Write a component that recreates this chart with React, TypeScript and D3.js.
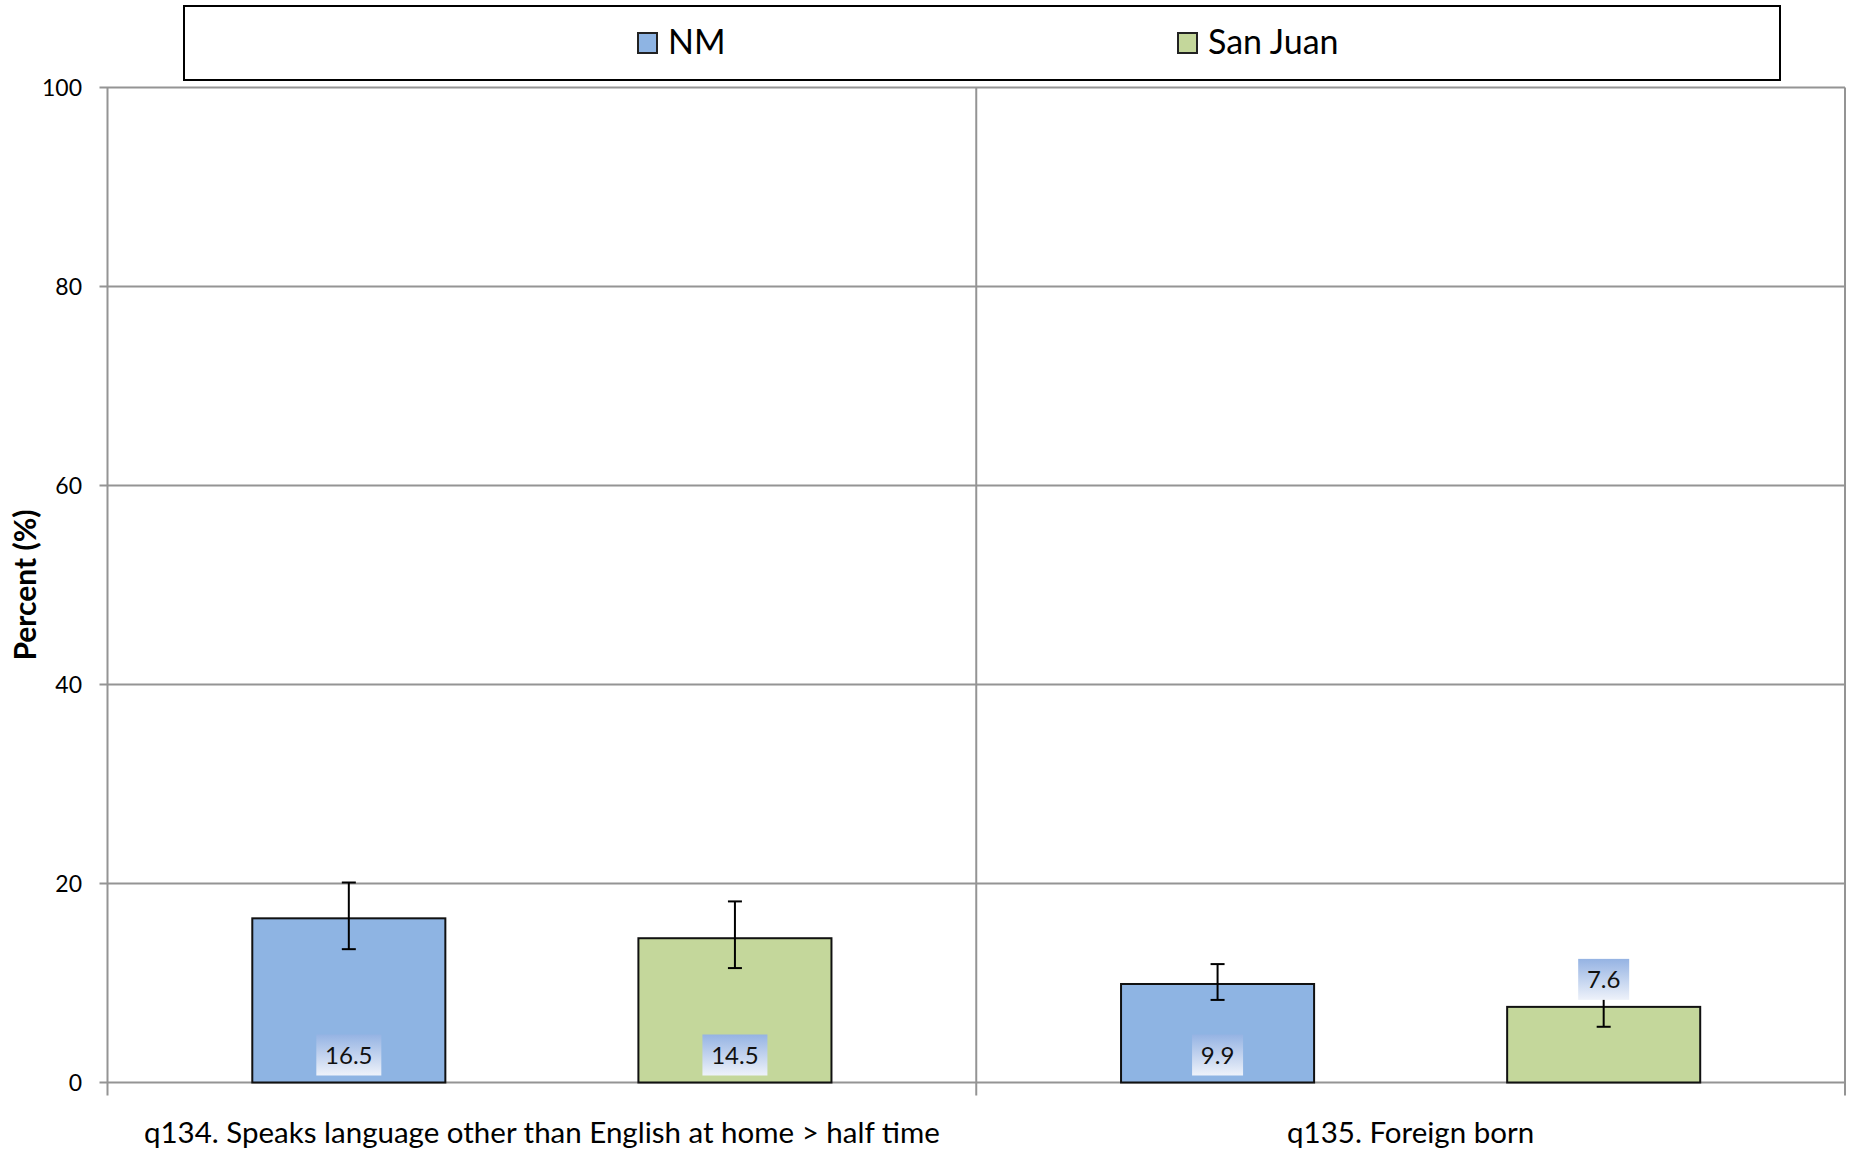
import React from 'react';
import * as d3 from 'd3';

const categories = ['q134. Speaks language other than English at home > half time', 'q135. Foreign born'];
const seriesNames = ['NM', 'San Juan'];
const nmValues = [16.5, 9.9];
const sjValues = [14.5, 7.6];
const nmLower = [13.4, 8.3];
const nmUpper = [20.1, 11.9];
const sjLower = [11.5, 5.6];
const sjUpper = [18.2, 9.7];
const labelPlacement = [['base', 'base'], ['base', 'above']]; // [category][series]
const yTicks = [0, 20, 40, 60, 80, 100];

const W = 1851;
const H = 1153;
const M = { left: 107.5, right: 1845, top: 87.5, bottom: 1082.5 };
const COLORS = ['#8eb4e3', '#c4d79b'];
const FONT = 'Lato, "Open Sans", sans-serif';

export default function App() {
  const x = d3.scaleBand<string>().domain(categories).range([M.left, M.right]).paddingInner(0).paddingOuter(0);
  const xs = d3.scaleBand<string>().domain(seriesNames).range([0, x.bandwidth()]).paddingInner(0.5).paddingOuter(0.375);
  const y = d3.scaleLinear().domain([0, 100]).range([M.bottom, M.top]);
  const values = [nmValues, sjValues];
  const lowers = [nmLower, sjLower];
  const uppers = [nmUpper, sjUpper];
  const bw = xs.bandwidth();
  const catEdges = [...categories.map((c) => x(c) as number), M.right];

  return (
    <svg width={W} height={H} style={{ position: 'absolute', left: 0, top: 0, background: '#fff' }}>
      <defs>
        <linearGradient id="lblGrad" x1="0" y1="0" x2="0" y2="1">
          <stop offset="0" stopColor="#95b3e3" />
          <stop offset="1" stopColor="#eef2fa" />
        </linearGradient>
      </defs>
      {/* gridlines */}
      {yTicks.map((t) => (
        <g key={t}>
          <line x1={M.left - 8} x2={M.right} y1={y(t)} y2={y(t)} stroke="#949494" strokeWidth={2} />
          <text x={82} y={y(t)} dy="0.35em" textAnchor="end" fontFamily={FONT} fontSize={23} fill="#000">{t}</text>
        </g>
      ))}
      {/* vertical category lines */}
      {catEdges.map((e, i) => (
        <line key={i} x1={e} x2={e} y1={M.top} y2={M.bottom + 13} stroke="#949494" strokeWidth={2} />
      ))}
      {/* bars */}
      {categories.map((c, ci) => (
        <g key={c}>
          {seriesNames.map((s, si) => {
            const bx = (x(c) as number) + (xs(s) as number);
            const v = values[si][ci];
            return (
              <rect key={s} x={bx} y={y(v)} width={bw} height={y(0) - y(v)} fill={COLORS[si]} stroke="#111" strokeWidth={2} />
            );
          })}
        </g>
      ))}
      {/* error bars */}
      {categories.map((c, ci) => (
        <g key={c + 'e'}>
          {seriesNames.map((s, si) => {
            const cx = (x(c) as number) + (xs(s) as number) + bw / 2;
            const lo = y(lowers[si][ci]);
            const hi = y(uppers[si][ci]);
            return (
              <g key={s} stroke="#000" strokeWidth={2}>
                <line x1={cx} x2={cx} y1={lo} y2={hi} />
                <line x1={cx - 7} x2={cx + 7} y1={lo} y2={lo} />
                <line x1={cx - 7} x2={cx + 7} y1={hi} y2={hi} />
              </g>
            );
          })}
        </g>
      ))}
      {/* data labels */}
      {categories.map((c, ci) => (
        <g key={c + 'l'}>
          {seriesNames.map((s, si) => {
            const cx = (x(c) as number) + (xs(s) as number) + bw / 2;
            const v = values[si][ci];
            const txt = d3.format('.1f')(v);
            const bwid = txt.length === 4 ? 65 : 51;
            const bh = 41;
            const bottom = labelPlacement[ci][si] === 'base' ? y(0) - 7 : y(v) - 7;
            return (
              <g key={s}>
                <rect x={cx - bwid / 2} y={bottom - bh} width={bwid} height={bh} fill="url(#lblGrad)" />
                <text x={cx} y={bottom - bh / 2} dy="0.36em" textAnchor="middle" fontFamily={FONT} fontSize={24} fill="#111">{txt}</text>
              </g>
            );
          })}
        </g>
      ))}
      {/* category labels */}
      {categories.map((c) => (
        <text key={c + 't'} x={(x(c) as number) + x.bandwidth() / 2} y={1143} textAnchor="middle" fontFamily={FONT} fontSize={29.5} fill="#000">{c}</text>
      ))}
      {/* y axis title */}
      <text transform={`translate(36,${(M.top + M.bottom) / 2}) rotate(-90)`} textAnchor="middle" fontFamily={FONT} fontWeight="bold" fontSize={30} fill="#000">Percent (%)</text>
      {/* legend */}
      <rect x={184} y={6} width={1596} height={74} fill="#fff" stroke="#000" strokeWidth={2} />
      {seriesNames.map((s, si) => {
        const lx = si === 0 ? 638 : 1178;
        return (
          <g key={s}>
            <rect x={lx} y={33} width={19} height={20} fill={COLORS[si]} stroke="#222" strokeWidth={2} />
            <text x={lx + 30} y={54} fontFamily={FONT} fontSize={34} fill="#000">{s}</text>
          </g>
        );
      })}
    </svg>
  );
}
